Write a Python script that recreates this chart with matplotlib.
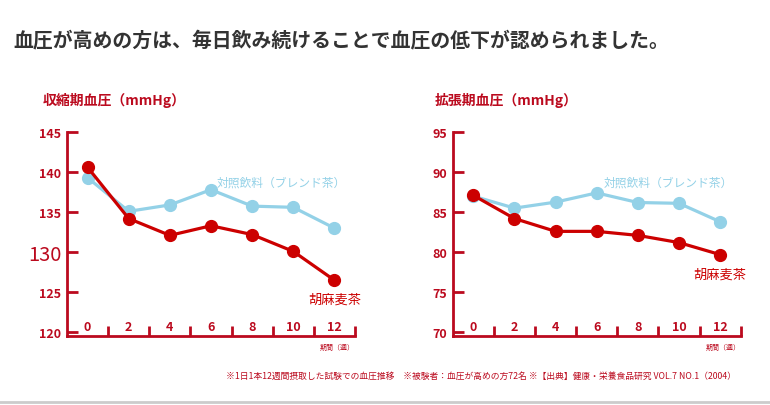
import numpy as np
import matplotlib.pyplot as plt

plt.rcParams['font.family'] = ['Noto Sans CJK JP', 'DejaVu Sans']

# donnees
semaines = [0, 2, 4, 6, 8, 10, 12]
sys_goma = [140.6, 134.2, 132.1, 133.3, 132.2, 130.1, 126.5]
sys_ctrl = [139.3, 135.1, 135.9, 137.8, 135.75, 135.6, 133.0]
dia_goma = [87.1, 84.2, 82.6, 82.6, 82.1, 81.2, 79.7]
dia_ctrl = [87.0, 85.5, 86.25, 87.4, 86.2, 86.1, 83.8]
sys_ticks = [120, 125, 130, 135, 140, 145]
dia_ticks = [70, 75, 80, 85, 90, 95]

rouge = '#cc0000'
rouge_txt = '#bb0a1e'
bleu = '#93d1e7'

fig = plt.figure(figsize=(7.7, 4.06), dpi=100)

fig.text(13/770, 1 - 40/406, '血圧が高めの方は、毎日飲み続けることで血圧の低下が認められました。',
         fontsize=14.3, fontweight='bold', color='#333333', va='center', ha='left')


def panel(left, titre, dx_titre, goma, ctrl, ticks, big_tick):
    ax = fig.add_axes([left, 69.3/406, 288/770, 203.7/406])
    ax.plot(semaines, ctrl, '-o', color=bleu, lw=2.3, ms=8.5, zorder=2)
    ax.plot(semaines, goma, '-o', color=rouge, lw=2.3, ms=8.5, zorder=3)
    ax.set_xlim(-1, 13)
    ax.set_ylim(ticks[0] - 0.42, ticks[-1])
    for s in ['top', 'right']:
        ax.spines[s].set_visible(False)
    for s in ['left', 'bottom']:
        ax.spines[s].set_color(rouge_txt)
        ax.spines[s].set_linewidth(2)
    ax.set_yticks(ticks)
    ax.set_yticklabels([str(t) for t in ticks], fontsize=9, fontweight='bold', color=rouge_txt)
    ax.tick_params(axis='y', direction='in', length=8, width=2, color=rouge_txt, pad=4)
    for lab, t in zip(ax.get_yticklabels(), ticks):
        if t == big_tick:
            lab.set_fontsize(14.5)
            lab.set_fontweight('normal')
    ax.set_xticks(np.arange(1, 14, 2))
    ax.set_xticklabels([])
    ax.tick_params(axis='x', direction='in', length=7, width=2, color=rouge_txt)
    for w in semaines:
        ax.text(w, 0.045, str(w), transform=ax.get_xaxis_transform(), ha='center', va='center',
                fontsize=9, fontweight='bold', color=rouge_txt)
    ax.text(dx_titre, 1.16, titre, transform=ax.transAxes, ha='left', va='center',
            fontsize=10, fontweight='bold', color=rouge_txt)
    ax.text(1.0, -0.055, '期間（週）', transform=ax.transAxes, ha='right', va='center',
            fontsize=5, color=rouge_txt)
    return ax


ax1 = panel(67/770, '収縮期血圧（mmHg）', -0.085, sys_goma, sys_ctrl, sys_ticks, 130)
ax1.text(12.55, 138.8, '対照飲料（ブレンド茶）', ha='right', va='center', fontsize=8.5, color=bleu)
ax1.text(12.0, 124.2, '胡麻麦茶', ha='center', va='center', fontsize=9.5, color=rouge)

ax2 = panel(452.7/770, '拡張期血圧（mmHg）', -0.062, dia_goma, dia_ctrl, dia_ticks, None)
ax2.text(12.6, 88.8, '対照飲料（ブレンド茶）', ha='right', va='center', fontsize=8.5, color=bleu)
ax2.text(12.0, 77.3, '胡麻麦茶', ha='center', va='center', fontsize=9.5, color=rouge)

fig.text(736/770, 1 - 376/406,
         '※1日1本12週間摂取した試験での血圧推移　※被験者：血圧が高めの方72名 ※【出典】健康・栄養食品研究 VOL.7 NO.1（2004）',
         fontsize=6.3, color=rouge_txt, ha='right', va='center')

fig.add_artist(plt.Line2D([0, 1], [3/406, 3/406], color='#cccccc', lw=2))

fig.savefig('out.png', dpi=100)
